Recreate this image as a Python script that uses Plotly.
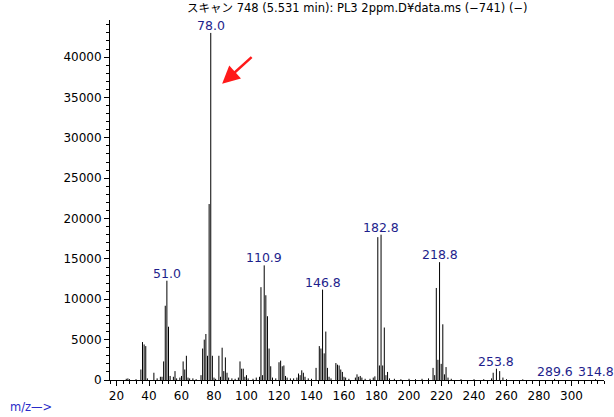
import plotly.graph_objects as go

# ---- data ----
mz = [26, 27, 28, 32,
      35, 36, 37, 38, 39,
      43, 45, 47, 48, 49, 50, 51, 52, 53, 55, 56, 57, 59, 60, 61, 62, 63, 64, 65, 67, 69,
      72, 73, 74, 75, 76, 77, 78, 79, 80, 81, 83, 84, 85, 86, 87, 88, 89, 91, 93, 95, 96, 97, 98, 99, 100, 101, 104, 106, 108,
      108.9, 109.9, 110.9, 111.9, 112.9, 113.9, 114.9, 116, 118,
      120, 121, 122, 123, 124, 125, 127, 129, 131, 132, 133, 134, 135, 136, 138, 140, 142.8,
      144.8, 145.8, 146.8, 147.8, 148.8, 149.8, 150.8, 152, 155, 156, 157, 158, 159, 160, 161, 163,
      167, 168, 169, 170, 171, 173, 176, 178, 179,
      180.8, 181.8, 182.8, 183.8, 184.8, 185.8, 186.8, 188, 191, 195, 200, 204, 208, 212,
      214.8, 215.8, 216.8, 217.8, 218.8, 219.8, 220.8, 221.8, 222.8, 224, 226, 232, 240, 246,
      250.8, 251.8, 253.8, 255.8, 257.8, 260, 270, 289.6, 314.8]
intensity = [150, 200, 100, 100,
             1300, 4700, 4400, 4200, 200,
             900, 200, 400, 400, 2300, 9200, 12300, 6600, 500, 400, 1100, 200, 300, 500, 2300, 1300, 3000, 300, 200, 200, 100,
             600, 3900, 5000, 5700, 3000, 21800, 43000, 3000, 300, 150, 3000, 400, 4000, 1100, 2800, 900, 300, 200, 150, 300, 2300, 1400, 1400, 400, 600, 200, 150, 300, 400,
             11500, 600, 14200, 10500, 7900, 3900, 1700, 300, 200,
             2200, 2400, 1700, 1800, 500, 300, 200, 200, 300, 800, 600, 1200, 900, 400, 200, 150, 1500,
             4200, 3900, 11200, 3300, 6000, 1500, 400, 200, 2100, 1900, 1800, 1300, 1000, 400, 300, 150,
             300, 700, 400, 500, 300, 150, 150, 300, 450,
             17700, 1800, 18000, 1800, 6500, 600, 1000, 200, 150, 100, 150, 100, 150, 200,
             1500, 600, 11400, 2500, 14600, 2000, 6900, 700, 1600, 300, 150, 100, 100, 100,
             200, 900, 1400, 1100, 300, 100, 80, 150, 100]
label_mz = [51.0, 78.0, 110.9, 146.8, 182.8, 218.8, 253.8, 289.6, 314.8]
x_ticks = list(range(20, 301, 20))
y_ticks = list(range(0, 40001, 5000))
title_text = "スキャン 748 (5.531 min): PL3 2ppm.D¥data.ms (−741) (−)"

# ---- build stick spectrum ----
xs, ys = [], []
for m, v in zip(mz, intensity):
    xs += [m, m, None]
    ys += [0, v, None]

fig = go.Figure()
fig.add_trace(go.Scatter(x=xs, y=ys, mode="lines",
                         line=dict(color="black", width=1),
                         hoverinfo="skip", showlegend=False))

font_main = "DejaVu Sans, Noto Sans CJK JP, sans-serif"
navy = "#1e1e8c"

annotations = []
for lm in label_mz:
    v = intensity[mz.index(lm)]
    annotations.append(dict(x=lm, y=v, xref="x", yref="y", text=f"{lm:.1f}",
                            showarrow=False, yanchor="bottom", xanchor="center",
                            yshift=-2,
                            font=dict(family=font_main, size=12.5, color=navy)))

annotations.append(dict(x=0.5, y=1.0, xref="paper", yref="paper", text=title_text,
                        showarrow=False, xanchor="center", yanchor="bottom", yshift=3,
                        font=dict(family=font_main, size=11.5, color="black")))
annotations.append(dict(x=-0.206, y=-0.076, xref="paper", yref="paper", text="m/z—>",
                        showarrow=False, xanchor="left", yanchor="middle",
                        font=dict(family=font_main, size=11.5, color="#2a2ac8")))
annotations.append(dict(x=85, y=36700, xref="x", yref="y", text="",
                        showarrow=True, ax=31, ay=-28, arrowcolor="#ff1a1a",
                        arrowhead=2, arrowsize=1.4, arrowwidth=2.5, standoff=0))

fig.update_layout(
    width=614, height=417,
    margin=dict(l=110, r=10, t=20, b=37),
    paper_bgcolor="white", plot_bgcolor="white",
    font=dict(family=font_main, size=12, color="black"),
    annotations=annotations,
    showlegend=False,
)
fig.update_xaxes(range=[16, 320], tickvals=x_ticks, ticktext=[str(t) for t in x_ticks],
                 showline=True, linecolor="black", linewidth=1,
                 ticks="outside", ticklen=5, tickcolor="black", tickwidth=1,
                 minor=dict(tick0=0, dtick=4, ticks="outside", ticklen=3, tickcolor="black"),
                 showgrid=False, zeroline=False,
                 tickfont=dict(family=font_main, size=12, color="black"))
fig.update_yaxes(range=[0, 44600], tickvals=y_ticks, ticktext=[str(t) for t in y_ticks],
                 showline=True, linecolor="black", linewidth=1,
                 ticks="outside", ticklen=5, tickcolor="black", tickwidth=1,
                 minor=dict(tick0=0, dtick=1000, ticks="outside", ticklen=3, tickcolor="black"),
                 showgrid=False, zeroline=False,
                 tickfont=dict(family=font_main, size=12, color="black"))

fig.write_html("out.html", config={"displayModeBar": False},
               post_script="document.body.style.margin='0';")
